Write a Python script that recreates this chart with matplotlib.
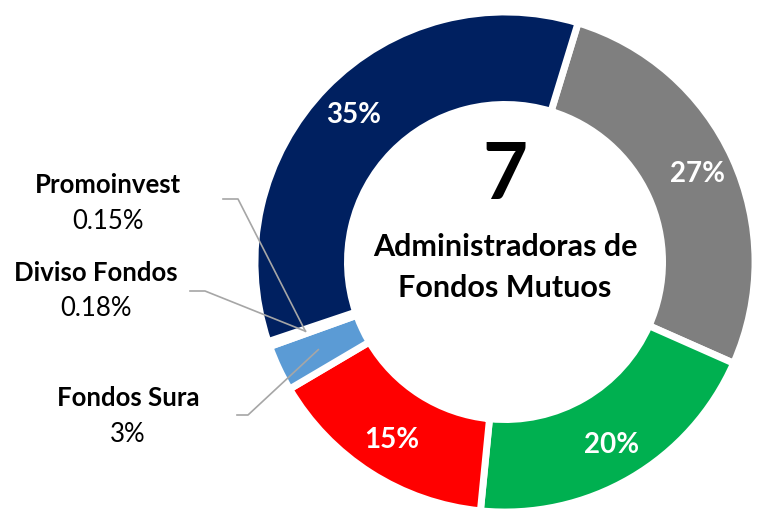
import numpy as np
import matplotlib.pyplot as plt

# datos
nombres = ["Gris", "Verde", "Rojo", "Fondos Sura", "Diviso Fondos", "Promoinvest", "Azul"]
valores = [27, 20, 15, 3, 0.18, 0.15, 35]
etiquetas_pct = ["27%", "20%", "15%", "", "", "", "35%"]
colores = ["#7F7F7F", "#00B050", "#FF0000", "#5B9BD5", "#FFFFFF", "#FFFFFF", "#002060"]
externos = [("Promoinvest", "0.15%", 5), ("Diviso Fondos", "0.18%", 4), ("Fondos Sura", "3%", 3)]

plt.rcParams['font.family'] = ['Lato', 'DejaVu Sans']

W, H = 776, 509
fig = plt.figure(figsize=(W / 100, H / 100), dpi=100)
ax = fig.add_axes([0, 0, 1, 1])

cx, cy = 505, H - 262
R = 250
ancho = 0.37
expl = 0.03

wedges, _ = ax.pie(valores, colors=colores, startangle=73, counterclock=False,
                   radius=R, center=(cx, cy), explode=[expl] * len(valores),
                   wedgeprops=dict(width=R * ancho, edgecolor="white", linewidth=5))
ax.set_xlim(0, W)
ax.set_ylim(0, H)
ax.set_aspect("equal")
ax.axis("off")

r_med = R * (1 - ancho / 2) + R * expl
for w, t in zip(wedges, etiquetas_pct):
    if not t:
        continue
    ang = np.deg2rad((w.theta1 + w.theta2) / 2)
    ax.text(cx + r_med * np.cos(ang), cy + r_med * np.sin(ang), t, color="white",
            fontsize=20, fontweight="bold", ha="center", va="center")

# centro
ax.text(cx, H - 177, "7", fontsize=56, fontweight="bold", ha="center", va="center")
ax.text(cx, H - 247, "Administradoras de", fontsize=22, fontweight="bold", ha="center", va="center")
ax.text(cx, H - 288, "Fondos Mutuos", fontsize=22, fontweight="bold", ha="center", va="center")

# etiquetas externas con lineas guia
pos_lbl = {"Promoinvest": (108, 185, 221, 223, 199, 238),
           "Diviso Fondos": (96, 273, 309, 190, 291, 205),
           "Fondos Sura": (128, 398, 434, 237, 415, 248)}
for nom, pct, i in externos:
    x, y1, y2, lx, ly, lx2 = pos_lbl[nom]
    ax.text(x, H - y1, nom, fontsize=18.5, fontweight="bold", ha="center", va="center")
    ax.text(x, H - y2, pct, fontsize=18.5, ha="center", va="center")
    w = wedges[i]
    ang = np.deg2rad((w.theta1 + w.theta2) / 2)
    if i == 3:
        rr = r_med - 5
    else:
        rr = r_med
        ang = np.deg2rad(w.theta2 if i == 5 else w.theta1)
    ex, ey = cx + rr * np.cos(ang), cy + rr * np.sin(ang)
    ax.plot([lx, lx2, ex], [H - ly, H - ly, ey], color="#A6A6A6", lw=1.2)

fig.savefig("out.png", dpi=100)
